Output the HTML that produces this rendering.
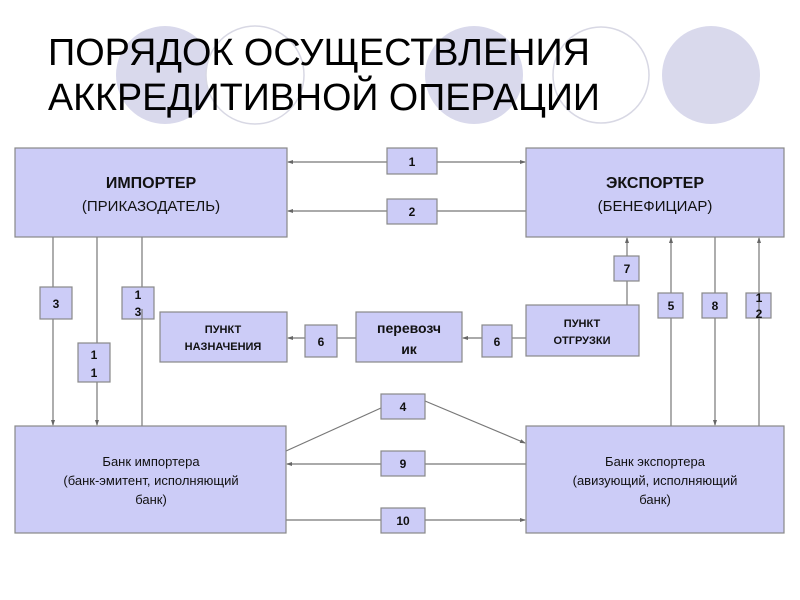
<!DOCTYPE html>
<html><head><meta charset="utf-8"><style>
html,body{margin:0;padding:0;background:#fff;}
svg{display:block;font-family:"Liberation Sans",sans-serif;}
</style></head><body>
<svg width="800" height="600" viewBox="0 0 800 600" xmlns="http://www.w3.org/2000/svg">
<defs>
<marker id="a" markerWidth="6" markerHeight="6" refX="5" refY="3" orient="auto" markerUnits="userSpaceOnUse">
<path d="M0,1 L6,3 L0,5 z" fill="#666"/></marker>
</defs>
<rect width="800" height="600" fill="#fff"/>
<!-- decorative circles -->
<circle cx="165" cy="75" r="49" fill="#d9d9ec"/>
<circle cx="255" cy="75" r="49" fill="#fff" stroke="#d8d8e4" stroke-width="1.5"/>
<circle cx="474" cy="75" r="49" fill="#d9d9ec"/>
<circle cx="601" cy="75" r="48" fill="none" stroke="#d8d8e4" stroke-width="1.5"/>
<circle cx="711" cy="75" r="49" fill="#d9d9ec"/>
<!-- title -->
<text x="48" y="65" font-size="38" fill="#000" textLength="542" lengthAdjust="spacingAndGlyphs">ПОРЯДОК ОСУЩЕСТВЛЕНИЯ</text>
<text x="48" y="110" font-size="38" fill="#000" textLength="552" lengthAdjust="spacingAndGlyphs">АККРЕДИТИВНОЙ ОПЕРАЦИИ</text>

<g stroke="#777" stroke-width="1.2" fill="none">
<!-- 1, 2 -->
<line x1="387" y1="162" x2="288" y2="162" marker-end="url(#a)"/>
<line x1="437" y1="162" x2="525" y2="162" marker-end="url(#a)"/>
<line x1="387" y1="211" x2="288" y2="211" marker-end="url(#a)"/>
<line x1="437" y1="211" x2="526" y2="211"/>
<!-- verticals left -->
<line x1="53" y1="237" x2="53" y2="425" marker-end="url(#a)"/>
<line x1="97" y1="237" x2="97" y2="425" marker-end="url(#a)"/>
<line x1="142" y1="426" x2="142" y2="231" marker-end="url(#a)"/>
<!-- verticals right -->
<line x1="627" y1="305" x2="627" y2="238" marker-end="url(#a)"/>
<line x1="671" y1="426" x2="671" y2="238" marker-end="url(#a)"/>
<line x1="715" y1="237" x2="715" y2="425" marker-end="url(#a)"/>
<line x1="759" y1="426" x2="759" y2="238" marker-end="url(#a)"/>
<!-- 6 -->
<line x1="305" y1="338" x2="288" y2="338" marker-end="url(#a)"/>
<line x1="337" y1="338" x2="356" y2="338"/>
<line x1="482" y1="338" x2="463" y2="338" marker-end="url(#a)"/>
<line x1="512" y1="338" x2="526" y2="338"/>
<!-- bottom -->
<line x1="286" y1="451" x2="381" y2="408"/>
<line x1="425" y1="401" x2="525" y2="443" marker-end="url(#a)"/>
<line x1="526" y1="464" x2="425" y2="464"/>
<line x1="381" y1="464" x2="287" y2="464" marker-end="url(#a)"/>
<line x1="286" y1="520" x2="381" y2="520"/>
<line x1="425" y1="520" x2="525" y2="520" marker-end="url(#a)"/>
</g>

<g fill="#ccccf7" stroke="#888" stroke-width="1.2">
<rect x="15" y="148" width="272" height="89"/>
<rect x="526" y="148" width="258" height="89"/>
<rect x="15" y="426" width="271" height="107"/>
<rect x="526" y="426" width="258" height="107"/>
<rect x="160" y="312" width="127" height="50"/>
<rect x="356" y="312" width="106" height="50"/>
<rect x="526" y="305" width="113" height="51"/>
<rect x="387" y="148" width="50" height="26"/>
<rect x="387" y="199" width="50" height="25"/>
<rect x="40" y="287" width="32" height="32"/>
<rect x="122" y="287" width="32" height="32"/>
<rect x="78" y="343" width="32" height="39"/>
<rect x="305" y="325" width="32" height="32"/>
<rect x="482" y="325" width="30" height="32"/>
<rect x="614" y="256" width="25" height="25"/>
<rect x="658" y="293" width="25" height="25"/>
<rect x="702" y="293" width="25" height="25"/>
<rect x="746" y="293" width="25" height="25"/>
<rect x="381" y="394" width="44" height="25"/>
<rect x="381" y="451" width="44" height="25"/>
<rect x="381" y="508" width="44" height="25"/>
</g>
<!-- lines through 13 and 12 boxes -->
<g stroke="#777" stroke-width="1.2">
<line x1="142" y1="309" x2="142" y2="319"/>
<line x1="759" y1="293" x2="759" y2="318"/>
</g>

<g fill="#111" text-anchor="middle">
<text x="151" y="188" font-size="16" font-weight="bold">ИМПОРТЕР</text>
<text x="151" y="211" font-size="15">(ПРИКАЗОДАТЕЛЬ)</text>
<text x="655" y="188" font-size="16" font-weight="bold">ЭКСПОРТЕР</text>
<text x="655" y="211" font-size="15">(БЕНЕФИЦИАР)</text>
<text x="151" y="466" font-size="13">Банк импортера</text>
<text x="151" y="485" font-size="13">(банк-эмитент, исполняющий</text>
<text x="151" y="504" font-size="13">банк)</text>
<text x="655" y="466" font-size="13">Банк экспортера</text>
<text x="655" y="485" font-size="13">(авизующий, исполняющий</text>
<text x="655" y="504" font-size="13">банк)</text>
<text x="223" y="333" font-size="11" font-weight="bold">ПУНКТ</text>
<text x="223" y="350" font-size="11" font-weight="bold">НАЗНАЧЕНИЯ</text>
<text x="409" y="333" font-size="14" font-weight="bold">перевозч</text>
<text x="409" y="354" font-size="14" font-weight="bold">ик</text>
<text x="582" y="327" font-size="11" font-weight="bold">ПУНКТ</text>
<text x="582" y="344" font-size="11" font-weight="bold">ОТГРУЗКИ</text>
<g font-size="12" font-weight="bold">
<text x="412" y="166">1</text>
<text x="412" y="216">2</text>
<text x="56" y="308">3</text>
<text x="138" y="299">1</text>
<text x="138" y="316">3</text>
<text x="94" y="359">1</text>
<text x="94" y="377">1</text>
<text x="321" y="346">6</text>
<text x="497" y="346">6</text>
<text x="627" y="273">7</text>
<text x="671" y="310">5</text>
<text x="715" y="310">8</text>
<text x="759" y="302">1</text>
<text x="759" y="318">2</text>
<text x="403" y="411">4</text>
<text x="403" y="468">9</text>
<text x="403" y="525">10</text>
</g>
</g>
</svg>
</body></html>
